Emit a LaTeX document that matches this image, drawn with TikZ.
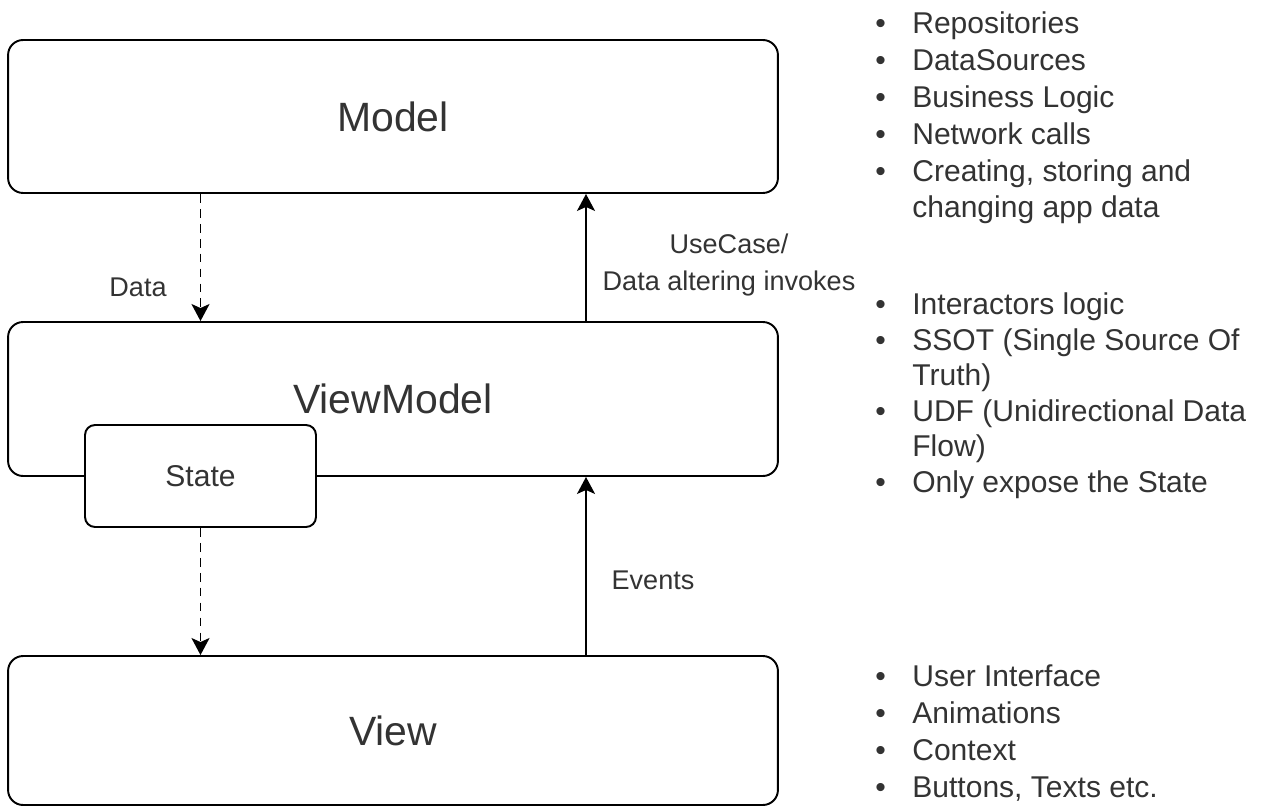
\documentclass[tikz,border=0pt]{standalone}
\usepackage{fontspec}
\setmainfont{Liberation Sans}
\usetikzlibrary{arrows.meta}
\definecolor{txt}{HTML}{333333}
\newcommand{\itm}{\makebox[0.74cm][l]{\textbullet}}
\newcommand{\gap}{\makebox[0.74cm][l]{}}

\begin{document}
\begin{tikzpicture}[x=0.02cm, y=-0.02cm,
  layer/.style={draw, line width=1.1pt, rounded corners=0.3cm, minimum width=15.4cm, text=txt, font=\fontsize{23.3}{28}\selectfont},
  lbl/.style={text=txt, font=\fontsize{15.4}{20.5}\selectfont, align=center},
  notes/.style={text=txt, font=\fontsize{17.1}{21}\selectfont, align=left, anchor=base west, inner sep=0pt},
  flow/.style={line width=1.1pt, -{Stealth[length=0.34cm, width=0.36cm, inset=0.08cm]}},
  lazy/.style={flow, dash pattern=on 5pt off 3.5pt},
]
\useasboundingbox (0,0) rectangle (1263,807);

\node[layer, minimum height=3.06cm] (model) at (393,116.5) {Model};
\node[layer, minimum height=3.08cm] (vm) at (393,399) {ViewModel};
\node[layer, minimum height=2.98cm] (view) at (393,730.5) {View};
\node[draw, fill=white, line width=1.1pt, rounded corners=0.2cm, minimum width=4.62cm, minimum height=2.04cm, text=txt, font=\fontsize{17.1}{21}\selectfont] (state) at (200.5,476) {State};

\coordinate (up) at (586,0);
\draw[lazy] (model.south -| state) -- (vm.north -| state);
\draw[lazy] (state) -- (view.north -| state);
\draw[flow] (vm.north -| up) -- (model.south -| up);
\draw[flow] (view.north -| up) -- (vm.south -| up);

\node[lbl] (data) at (138,287) {Data};
\node[lbl] (usecase) at (729,265) {UseCase/\\Data altering invokes};
\node[lbl] (events) at (653,580) {Events};

% notes beside each layer (anchored at the last baseline)
\node[notes] (modelnotes) at (875,218) {\itm Repositories\\ \itm DataSources\\ \itm Business Logic\\ \itm Network calls\\ \itm Creating, storing and\\ \gap changing app data};
\node[notes, font=\fontsize{17.1}{20.2}\selectfont] (vmnotes) at (875,492) {\itm Interactors logic\\ \itm SSOT (Single Source Of\\ \gap Truth)\\ \itm UDF (Unidirectional Data\\ \gap Flow)\\ \itm Only expose the State};
\node[notes, font=\fontsize{17.1}{20.9}\selectfont] (viewnotes) at (875,797) {\itm User Interface\\ \itm Animations\\ \itm Context\\ \itm Buttons, Texts etc.};
\end{tikzpicture}
\end{document}
